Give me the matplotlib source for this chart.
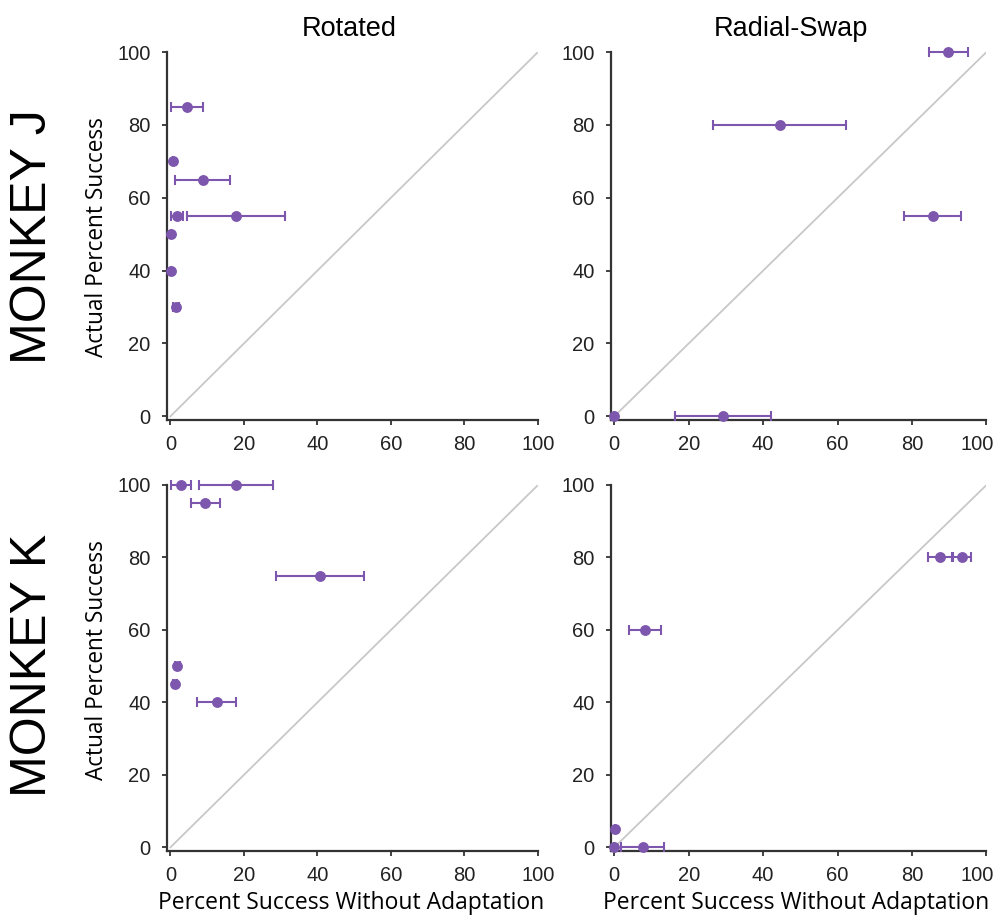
import matplotlib
matplotlib.use('Agg')
import matplotlib.pyplot as plt
import matplotlib.transforms as mtransforms
import numpy as np

# ==========================================
# 1. Data (x = success without adaptation, y = actual)
# ==========================================
# Monkey J - Rotated
j_rot_x = [4.5, 0.8, 8.8, 1.8, 17.8, 0.3, 0.2, 1.5]
j_rot_y = [85, 70, 65, 55, 55, 50, 40, 30]
j_rot_err = [4.4, 0, 7.5, 1.6, 13.4, 0, 0, 0.8]

# Monkey J - Radial-Swap
j_rad_x = [89.7, 44.4, 85.5, 29.2, 0.0]
j_rad_y = [100, 80, 55, 0, 0]
j_rad_err = [5.2, 17.8, 7.7, 12.8, 0]

# Monkey K - Rotated
k_rot_x = [2.9, 17.9, 9.5, 40.7, 1.9, 1.3, 12.6]
k_rot_y = [100, 100, 95, 75, 50, 45, 40]
k_rot_err = [2.6, 10.1, 4.0, 11.9, 0.6, 0.5, 5.3]

# Monkey K - Radial-Swap
k_rad_x = [87.6, 93.4, 8.2, 0.1, 0.0, 7.7]
k_rad_y = [80, 80, 60, 5, 0, 0]
k_rad_err = [3.2, 2.5, 4.3, 0, 0, 5.8]

ticks = [0, 20, 40, 60, 80, 100]
col_titles = ['Rotated', 'Radial-Swap']
row_titles = ['MONKEY J', 'MONKEY K']

PURPLE = '#7D56AE'
SPINE = '#333333'

# ==========================================
# 2. Figure and axes layout
# ==========================================
W, H = 998, 915
fig = plt.figure(figsize=(W / 100, H / 100), dpi=100)

lefts = [166.7 / W, 610.5 / W]
widths = [371.3 / W, 376.0 / W]
bottoms = [1 - 420 / H, 1 - 851 / H]
heights = [368 / H, 366 / H]

panels = [[(j_rot_x, j_rot_y, j_rot_err), (j_rad_x, j_rad_y, j_rad_err)],
          [(k_rot_x, k_rot_y, k_rot_err), (k_rad_x, k_rad_y, k_rad_err)]]

for r in range(2):
    for c in range(2):
        ax = fig.add_axes([lefts[c], bottoms[r], widths[c], heights[r]])
        x, y, err = panels[r][c]
        ax.plot([0, 100], [0, 100], color='#C8C8C8', lw=1.3, zorder=1)
        ax.errorbar(x, y, xerr=err, fmt='o', color=PURPLE, ms=6.8,
                    elinewidth=1.5, capsize=3.6, capthick=1.5, zorder=3,
                    clip_on=False)
        ax.set_xlim(-1, 100)
        ax.set_ylim(-1, 100)
        ax.set_xticks(ticks)
        ax.set_yticks(ticks)
        for s in ['top', 'right']:
            ax.spines[s].set_visible(False)
        for s in ['left', 'bottom']:
            ax.spines[s].set_color(SPINE)
            ax.spines[s].set_linewidth(1.6)
        ax.tick_params(axis='both', colors=SPINE, width=1.3, length=3.5,
                       labelsize=14.5, labelcolor='#222222')
        ax.tick_params(axis='y', pad=8)
        ax.tick_params(axis='x', pad=7)
        for lab in ax.get_xticklabels() + ax.get_yticklabels():
            lab.set_fontfamily('Liberation Sans')
        if c == 1:
            # last x label sits a bit left of its tick in the original
            last = ax.get_xticklabels()[-1]
            last.set_transform(last.get_transform() + mtransforms.ScaledTranslation(
                -9 / 100, 0, fig.dpi_scale_trans))

# ==========================================
# 3. Titles and labels
# ==========================================
fig.text(349 / W, 1 - 29 / H, col_titles[0], ha='center', va='center',
         fontsize=19.5, family='Liberation Sans')
fig.text(791 / W, 1 - 29 / H, col_titles[1], ha='center', va='center',
         fontsize=19.5, family='Liberation Sans')

for yc, name in zip([237, 665], row_titles):
    fig.text(33 / W, 1 - yc / H, name, ha='center', va='center',
             rotation=90, fontsize=36, family='Liberation Sans')

for yc in [237, 660]:
    fig.text(97 / W, 1 - yc / H, 'Actual Percent Success', ha='center',
             va='center', rotation=90, fontsize=16.3, family='Open Sans')

for xc in [351, 796]:
    fig.text(xc / W, 1 - 903 / H, 'Percent Success Without Adaptation',
             ha='center', va='center', fontsize=16.5, family='Open Sans')

fig.savefig('out.png', dpi=100, facecolor='white')
